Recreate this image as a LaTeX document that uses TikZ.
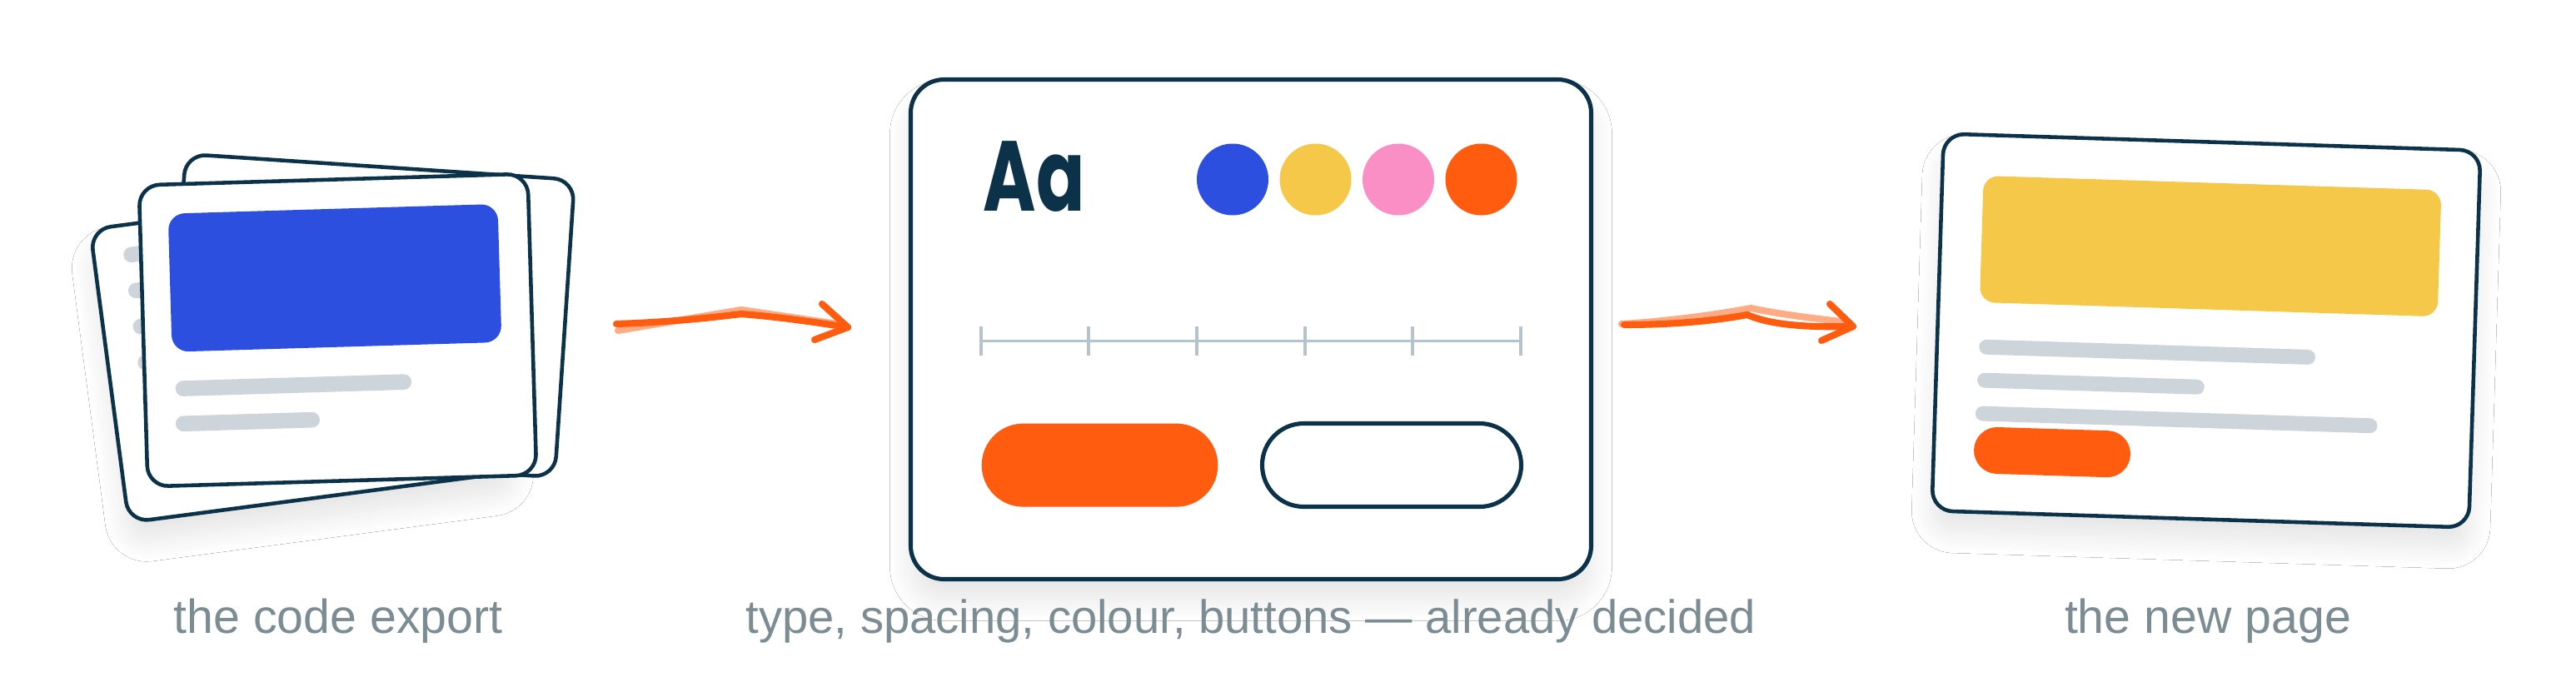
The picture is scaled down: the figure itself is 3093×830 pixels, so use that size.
\documentclass[tikz,border=0pt]{standalone}
\usepackage{fontspec}
\setmainfont{Liberation Sans}
\newfontfamily\aafont{Poppins}[FakeStretch=0.72]
\usetikzlibrary{shadows.blur}
\definecolor{ink}{HTML}{0C3249}
\definecolor{brandBlue}{HTML}{2D4FDF}
\definecolor{brandYellow}{HTML}{F5C84A}
\definecolor{brandPink}{HTML}{F98FC4}
\definecolor{accent}{HTML}{FF5C0F}
\definecolor{accentLight}{HTML}{FFAC85}
\definecolor{barGray}{HTML}{CDD5DA}
\definecolor{ruleGray}{HTML}{B4C3CC}
\definecolor{capGray}{HTML}{7B8C93}
\begin{document}
\begin{tikzpicture}[x=0.1mm, y=-0.1mm,
    card/.style={draw=ink, line width=1.3pt, fill=white, rounded corners=2.5mm},
    bar/.style={line width=5.3pt, line cap=round, draw=barGray},
    hand/.style={line width=2.3pt, line cap=round, line join=round, draw=accent},
    ghost/.style={hand, draw=accentLight},
    caption/.style={anchor=base, text=capGray, inner sep=0pt, font=\fontsize{16.3}{18}\selectfont},
    lifted/.style={blur shadow={shadow xshift=0mm, shadow yshift=-2.5mm, shadow blur radius=2.5mm,
        shadow blur steps=24, shadow opacity=10}}]
    \fill[white] (0,0) rectangle (3093,830);
    \useasboundingbox (0,0) rectangle (3093,830);
    % Export stack
    \begin{scope}[shift={(363.4,420.9)}, rotate=7.5]
        \draw[card, lifted] (-234,-177.5) rectangle (234,177.5);
        \foreach \y/\l in {-141/140, -97.5/90, -54/160, -10.5/70, 33/120}
            \draw[bar] (-189,\y) -- (\l,\y);
    \end{scope}
    \begin{scope}[shift={(444.5,379)}, rotate=-3.8]
        \draw[card] (-234,-179) rectangle (234,179);
    \end{scope}
    \begin{scope}[shift={(405.5,396.5)}, rotate=1.7]
        \draw[card] (-233.5,-181) rectangle (233.5,181);
        \fill[brandBlue, rounded corners=2mm] (-199.6,-145.8) rectangle (196.4,20.2);
        \draw[bar] (-187.5,64.5) -- (77.5,64.5);
        \draw[bar] (-188.6,106.7) -- (-34,106.7);
    \end{scope}
    % Decided panel
    \draw[card, line width=1.45pt, rounded corners=4mm, lifted] (1093.5,95.5) rectangle (1910.5,695.5);
    \node[anchor=base west, text=ink, inner sep=0pt, font=\aafont\bfseries\fontsize{34}{34}\selectfont] (aa) at (1180,253) {Aa};
    \foreach \c [count=\i from 0] in {brandBlue, brandYellow, brandPink, accent}
        \fill[\c] ({1480+99.5*\i},215.5) circle (4.3mm);
    \draw[ruleGray, line width=1pt] (1177.6,409.4) -- (1826,409.4);
    \foreach \i in {0,...,5}
        \draw[ruleGray, line width=1.1pt] ({1177.6+129.7*\i},392) -- ++(0,35);
    \fill[accent, rounded corners=4.99mm] (1178.7,508.6) rectangle (1462.3,608.6);
    \draw[ink, line width=1.45pt, rounded corners=4.99mm] (1515.5,508.5) rectangle (1826.5,608.5);
    % New page
    \begin{scope}[shift={(2649,397)}, rotate=-1.8]
        \draw[card, lifted] (-322.5,-226.5) rectangle (322.5,226.5);
        \fill[brandYellow, rounded corners=1.8mm] (-273,-177.5) rectangle (277,-25.5);
        \draw[bar, line width=5.1pt] (-263,28) -- (123,28);
        \draw[bar, line width=5.1pt] (-264,68) -- (-9,68);
        \draw[bar, line width=5.1pt] (-265,108) -- (200,108);
        \fill[accent, rounded corners=2.79mm] (-274.3,123.8) rectangle (-86.3,179.8);
    \end{scope}
    % Arrows
    \coordinate (a1s) at (740,389);
    \coordinate (a1m) at (890,377);
    \coordinate (a1e) at (1018,393);
    \coordinate (a1u) at (987,365);
    \coordinate (a1d) at (978,408);
    \coordinate (a1g) at (742,397);
    \coordinate (a1h) at (890,372);
    \draw[ghost] (a1g) -- (a1h) -- (1012,390);
    \draw[hand] (a1s) .. controls (800,387) and (850,382) .. (a1m)
        .. controls (940,381) and (985,388) .. (a1e);
    \draw[hand] (a1u) -- (a1e) -- (a1d);
    \coordinate (a2s) at (1950,390);
    \coordinate (a2m) at (2098,378);
    \coordinate (a2e) at (2225,392);
    \coordinate (a2u) at (2197,365);
    \coordinate (a2d) at (2187,409);
    \coordinate (a2g) at (1947,389);
    \coordinate (a2h) at (2102,370);
    \coordinate (a2k) at (2220,387);
    \draw[ghost] (a2g) .. controls (2000,386) and (2060,378) .. (a2h)
        .. controls (2140,378) and (2190,384) .. (a2k);
    \draw[hand] (a2s) .. controls (2010,390) and (2060,385) .. (a2m)
        .. controls (2130,392) and (2180,393) .. (a2e);
    \draw[hand] (a2u) -- (a2e) -- (a2d);
    % Captions
    \node[caption] (cap1) at (406,760) {the code export};
    \node[caption, font=\fontsize{16}{18}\selectfont] (cap2) at (1502,760) {type, spacing, colour, buttons — already decided};
    \node[caption] (cap3) at (2651,760) {the new page};
\end{tikzpicture}
\end{document}
